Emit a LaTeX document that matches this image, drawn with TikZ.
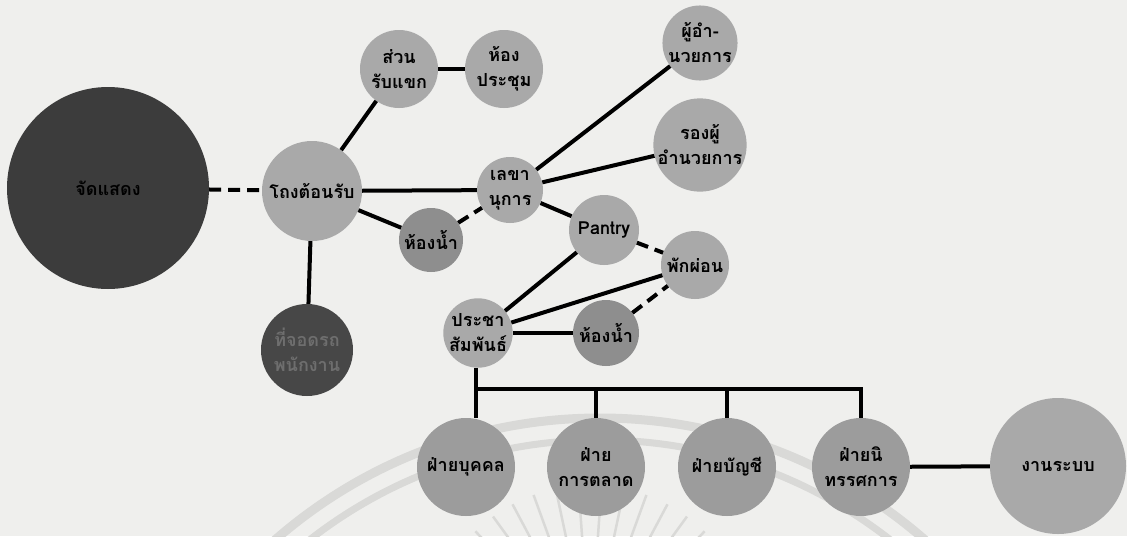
\documentclass[tikz,border=0pt]{standalone}
\usepackage{fontspec}
\usetikzlibrary{calc}
\newfontfamily\thai[Script=Thai]{Loma}
\definecolor{paper}{HTML}{EFEFED}
\definecolor{wm}{HTML}{D9D9D7}
\definecolor{lightc}{HTML}{A9A9A9}
\definecolor{midc}{HTML}{8E8E8E}
\definecolor{rowc}{HTML}{9C9C9C}
\definecolor{darkc}{HTML}{3C3C3C}
\definecolor{parkc}{HTML}{474747}
\definecolor{parktext}{HTML}{6E6E6E}
\begin{document}
\begin{tikzpicture}[x=1pt,y=-1pt,
  room/.style={circle,inner sep=0pt,align=center,text=black,
    font=\thai\bfseries\fontsize{18}{25}\selectfont},
  link/.style={line width=4pt},
  dlink/.style={line width=4pt,dash pattern=on 12pt off 7pt}]
\useasboundingbox (0,0) rectangle (1127,536);
\fill[paper] (0,0) rectangle (1127,536);
% watermark
\begin{scope}
\clip (0,0) rectangle (1127,536);
\draw[wm,line width=9pt] (600,912) circle[radius=494];
\draw[wm,line width=7pt] (600,912) circle[radius=472];
\foreach \a in {38,46,...,142}
  \draw[wm,line width=2.5pt] ($(590,650)+(\a:-100)$) -- ($(590,650)+(\a:-165)$);
\end{scope}
% nodes
\node[room,fill=darkc,minimum size=202pt] (show) at (108,188) {จัดแสดง};
\node[room,fill=lightc,minimum size=100pt] (lobby) at (312,191) {โถงต้อนรับ};
\node[room,fill=lightc,minimum size=78pt] (guest) at (399,69) {ส่วน\\รับแขก};
\node[room,fill=lightc,minimum size=78pt] (meet) at (504,69) {ห้อง\\ประชุม};
\node[room,fill=lightc,minimum size=66pt] (sec) at (510,190) {เลขา\\นุการ};
\node[room,fill=midc,minimum size=64pt] (wc1) at (431,240) {ห้องน้ำ};
\node[room,fill=parkc,minimum size=92pt,text=parktext] (park) at (307,350) {ที่จอดรถ\\พนักงาน};
\node[room,fill=lightc,minimum size=60pt] (dir) at (700,43) {ผู้อำ-\\นวยการ};
\node[room,fill=lightc,minimum size=64pt] (vdir) at (700,145) {รองผู้\\อำนวยการ};
\node[room,fill=lightc,minimum size=70pt] (pantry) at (604,230) {Pantry};
\node[room,fill=lightc,minimum size=68pt] (rest) at (695,265) {พักผ่อน};
\node[room,fill=lightc,minimum size=66pt] (pr) at (478,333) {ประชา\\สัมพันธ์};
\node[room,fill=midc,minimum size=66pt] (wc2) at (606,333) {ห้องน้ำ};
\node[room,fill=rowc,minimum size=98pt] (hr) at (466,467) {ฝ่ายบุคคล};
\node[room,fill=rowc,minimum size=98pt] (mkt) at (596,467) {ฝ่าย\\การตลาด};
\node[room,fill=rowc,minimum size=98pt] (acc) at (727,467) {ฝ่ายบัญชี};
\node[room,fill=rowc,minimum size=98pt] (exh) at (861,467) {ฝ่ายนิ\\ทรรศการ};
\node[room,fill=lightc,minimum size=136pt] (sys) at (1058,466) {งานระบบ};
% connectors
\draw[dlink] (show) -- (lobby);
\draw[link] (lobby) -- (guest);
\draw[link] (guest) -- (meet);
\draw[link] (lobby) -- (sec);
\draw[link] (lobby) -- (wc1);
\draw[dlink] (wc1) -- (sec);
\draw[link] (lobby) -- (park);
\draw[link] (sec) -- (dir);
\draw[link] (sec) -- (vdir);
\draw[link] (sec) -- (pantry);
\draw[dlink] (pantry) -- (rest);
\draw[link] (pr) -- (pantry);
\draw[link] (pr) -- (rest);
\draw[link] (pr) -- (wc2);
\draw[dlink] (wc2) -- (rest);
\coordinate (busL) at (476,389);
\coordinate (busR) at (861,389);
\draw[link] (pr.south -| busL) -- (busL) -- (busR) -- (exh.north);
\draw[link] (busL) -- (busL |- hr.north);
\draw[link] (mkt.north |- busL) -- (mkt.north);
\draw[link] (acc.north |- busL) -- (acc.north);
\draw[link] (exh) -- (sys);
\end{tikzpicture}
\end{document}
